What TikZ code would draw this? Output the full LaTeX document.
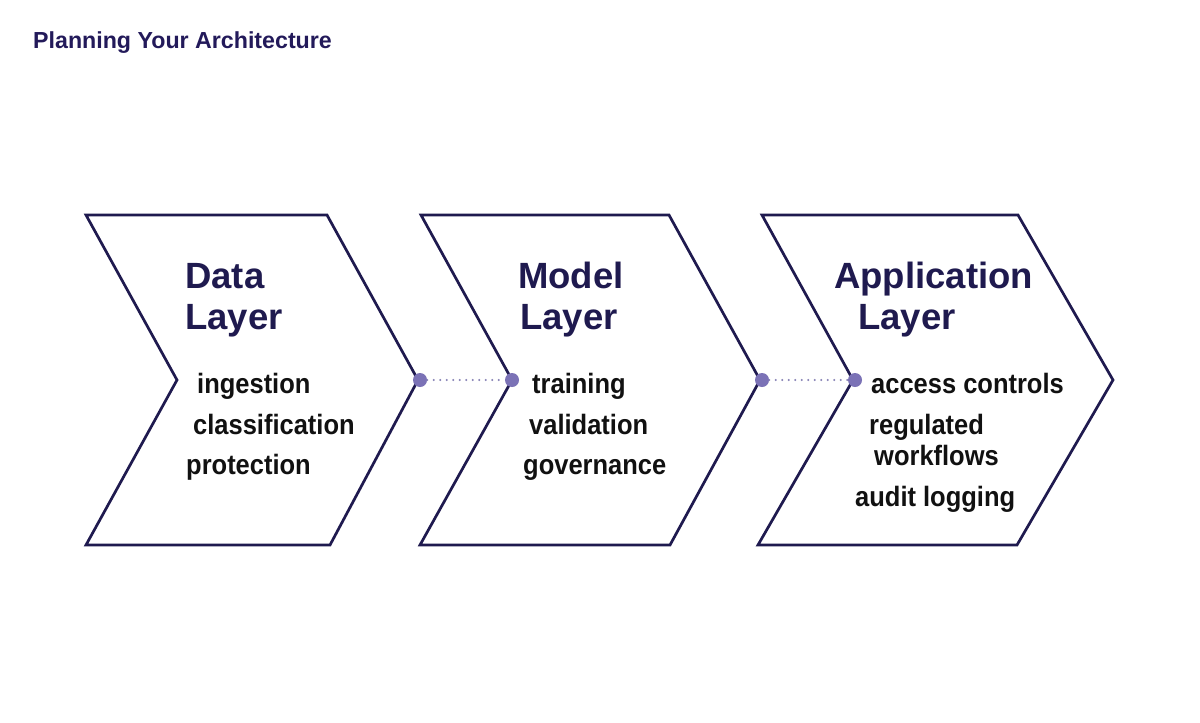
\documentclass[tikz,border=0pt]{standalone}
\usepackage{fontspec}
\setmainfont{Liberation Sans}
\newfontfamily\itemfont[FakeStretch=0.91]{Liberation Sans}
\definecolor{navy}{HTML}{1F1A4F}
\definecolor{titlec}{HTML}{231A5A}
\definecolor{dotc}{HTML}{7B72B6}
\definecolor{dotline}{HTML}{8580B4}
\definecolor{itemc}{HTML}{111111}
\begin{document}
\begin{tikzpicture}[x=1pt,y=-1pt,
  chev/.style={draw=navy,line width=2.7pt,line join=miter,fill=white},
  heading/.style={anchor=base west,inner sep=0pt,text=navy,font=\fontsize{36.5}{41}\selectfont\bfseries},
  item/.style={anchor=base west,inner sep=0pt,text=itemc,font=\itemfont\fontsize{28}{30}\selectfont\bfseries},
  dotnode/.style={circle,fill=dotc,inner sep=0pt,minimum size=14pt},
  link/.style={draw=dotline,line width=2.2pt,line cap=round,dash pattern=on 0pt off 6.5pt}]
\useasboundingbox (0,0) rectangle (1200,723);
\fill[white] (0,0) rectangle (1200,723);
\node[anchor=base west,inner sep=0pt,text=titlec,font=\fontsize{23.2}{26}\selectfont\bfseries] (title) at (33,48) {Planning Your Architecture};

% chevrons
\draw[chev] (86,215) -- (327,215) -- (418,380) -- (330,545) -- (86,545) -- (177,380) -- cycle;
\draw[chev] (421,215) -- (669,215) -- (760,380) -- (670,545) -- (420,545) -- (512,380) -- cycle;
\draw[chev] (762,215) -- (1018,215) -- (1113,380) -- (1017,545) -- (758,545) -- (853,380) -- cycle;

% connectors
\node[dotnode] (d1) at (420,380) {};
\node[dotnode] (d2) at (512,380) {};
\node[dotnode] (d3) at (762,380) {};
\node[dotnode] (d4) at (855,380) {};
\draw[link] (d1) -- (d2);
\draw[link] (d3) -- (d4);

% Data layer
\node[heading] (h1a) at (185,288) {Data};
\node[heading] (h1b) at (185,329) {Layer};
\node[item] (i1a) at (197,393) {ingestion};
\node[item] (i1b) at (193,434) {classification};
\node[item] (i1c) at (186,474) {protection};

% Model layer
\node[heading] (h2a) at (518,288) {Model};
\node[heading] (h2b) at (520,329) {Layer};
\node[item] (i2a) at (532,393) {training};
\node[item] (i2b) at (529,434) {validation};
\node[item] (i2c) at (523,474) {governance};

% Application layer
\node[heading] (h3a) at (834,288) {Application};
\node[heading] (h3b) at (858,329) {Layer};
\node[item] (i3a) at (871,393) {access controls};
\node[item] (i3b) at (869,434) {regulated};
\node[item] (i3c) at (874,465) {workflows};
\node[item] (i3d) at (855,506) {audit logging};
\end{tikzpicture}
\end{document}
